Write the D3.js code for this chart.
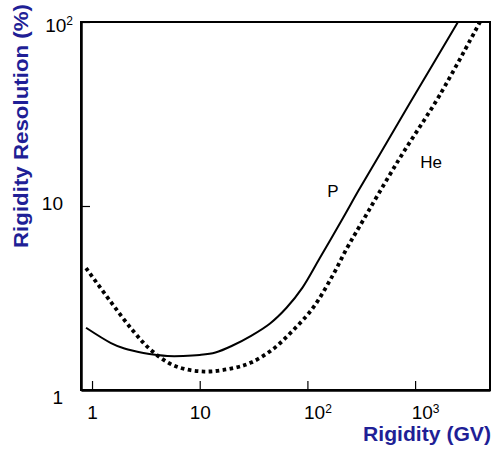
<!DOCTYPE html>
<html lang="en">
<head>
    <meta charset="utf-8">
    <title>Rigidity resolution</title>
    <script type="text/javascript" src="https://cdn.jsdelivr.net/npm/d3@7/dist/d3.min.js"></script>
    <style>
        body { margin: 0; background: #fff; }
        text { font-family: Arial, "Liberation Sans", sans-serif; }
    </style>
</head>
<body>
    <script type="text/javascript">

        // values (rigidity in GV, resolution in %)
        var pRigidity = [0.88, 1.5, 2, 3, 4, 5, 7, 10, 14, 20, 30, 45, 64, 90, 130, 214, 300, 468, 1000, 2500];
        var pResolution = [2.18, 1.80, 1.68, 1.59, 1.55, 1.53, 1.53, 1.55, 1.60, 1.74, 1.97, 2.3, 2.8, 3.6, 5.2, 8.6, 12.2, 19.0, 40.5, 100];

        var heRigidity = [0.88, 1.47, 2.4, 3.6, 5.9, 11, 21, 30, 48, 73, 113, 172, 233, 307, 700, 1690, 4000];
        var heResolution = [4.6, 3.05, 2.10, 1.63, 1.35, 1.26, 1.32, 1.41, 1.67, 2.1, 2.8, 4.2, 5.9, 7.8, 17.7, 40, 100];

        var xMajor = [1, 10, 100, 1000];
        var xLabels = [["1", ""], ["10", ""], ["10", "2"], ["10", "3"]];
        var yMajor = [1, 10, 100];
        var yLabels = [["1", ""], ["10", ""], ["10", "2"]];

        var w = 492;
        var h = 452;
        var blue = "#1f1f96";

        var svg = d3.select("body")
            .append("svg")
            .attr("width", w)
            .attr("height", h)

        var x = d3.scaleLog().domain([0.79, 4960]).range([81, 490]);
        var y = d3.scaleLog().domain([1, 100]).range([390, 22]);

        // minor ticks straight from the log scales
        var xMinor = x.ticks().filter(function(d){ return xMajor.indexOf(d) < 0; });
        var yMinor = y.ticks().filter(function(d){ return yMajor.indexOf(d) < 0; });

        // frame top and right
        svg.append("rect")
            .attr("x", 81).attr("y", 22)
            .attr("width", 409).attr("height", 368)
            .attr("fill", "none")
            .attr("stroke", "#000")
            .attr("stroke-width", 2)

        function labelIndex(list, d) {
            return list[(d === 1) ? 0 : Math.round(Math.log10(d))];
        }

        // bottom axis
        var gx = svg.append("g").attr("transform", "translate(0,390)")
        gx.call(d3.axisBottom(x).tickValues(xMinor).tickSizeInner(-6).tickSizeOuter(0).tickFormat(""));
        gx.call(d3.axisBottom(x).tickValues(xMajor).tickSizeInner(-9).tickSizeOuter(0).tickPadding(16).tickFormat(""));
        gx.selectAll(".domain").attr("stroke-width", 2.5)
        gx.selectAll("line").attr("stroke-width", 1.2)
        gx.selectAll(".tick text")
            .style("font-size", "19px")
            .attr("fill", "#000")
            .each(function(d){
                var lab = labelIndex(xLabels, d);
                var t = d3.select(this);
                if (lab[1] !== "") t.attr("dx", 10);
                t.append("tspan").text(lab[0]);
                if (lab[1] !== "") t.append("tspan").attr("dy", "-0.55em").style("font-size", "12px").text(lab[1]);
            })

        // left axis
        var gy = svg.append("g").attr("transform", "translate(81,0)")
        gy.call(d3.axisLeft(y).tickValues(yMinor).tickSizeInner(-6).tickSizeOuter(0).tickFormat(""));
        gy.call(d3.axisLeft(y).tickValues(yMajor).tickSizeInner(-9).tickSizeOuter(0).tickPadding(18).tickFormat(""));
        gy.selectAll(".domain").attr("stroke-width", 2.5)
        gy.selectAll("line").attr("stroke-width", 1.2)
        gy.selectAll(".tick text")
            .style("font-size", "19px")
            .attr("fill", "#000")
            .each(function(d){
                var lab = labelIndex(yLabels, d);
                var t = d3.select(this);
                if (d === 1) t.attr("dy", "0.7em");
                if (d === 10) t.attr("dy", "0.2em");
                if (lab[1] !== "") t.attr("x", -8).attr("dy", "0.5em");
                t.append("tspan").text(lab[0]);
                if (lab[1] !== "") t.append("tspan").attr("dy", "-0.55em").style("font-size", "12px").text(lab[1]);
            })

        var line = d3.line()
            .x(function(d){ return x(d[0]); })
            .y(function(d){ return y(d[1]); })
            .curve(d3.curveCatmullRom.alpha(0.5))

        var pData = pRigidity.map(function(r, i){ return [r, pResolution[i]]; });
        var heData = heRigidity.map(function(r, i){ return [r, heResolution[i]]; });

        svg.append("path")
            .datum(heData)
            .attr("d", line)
            .attr("fill", "none")
            .attr("stroke", "#000")
            .attr("stroke-width", 3.8)
            .attr("stroke-dasharray", "3.6,3.4")

        svg.append("path")
            .datum(pData)
            .attr("d", line)
            .attr("fill", "none")
            .attr("stroke", "#000")
            .attr("stroke-width", 2)

        svg.append("text").attr("x", 333).attr("y", 197)
            .attr("text-anchor", "middle").style("font-size", "17px").text("P")
        svg.append("text").attr("x", 431).attr("y", 168)
            .attr("text-anchor", "middle").style("font-size", "17px").text("He")

        // axis titles
        svg.append("text")
            .attr("transform", "translate(28,248) rotate(-90)")
            .attr("textLength", 244)
            .attr("lengthAdjust", "spacingAndGlyphs")
            .attr("fill", blue)
            .style("font-size", "20px")
            .style("font-weight", "bold")
            .text("Rigidity Resolution (%)")

        svg.append("text")
            .attr("x", 363).attr("y", 441)
            .attr("textLength", 128)
            .attr("lengthAdjust", "spacingAndGlyphs")
            .attr("fill", blue)
            .style("font-size", "20px")
            .style("font-weight", "bold")
            .text("Rigidity (GV)")

    </script>
</body>
</html>
